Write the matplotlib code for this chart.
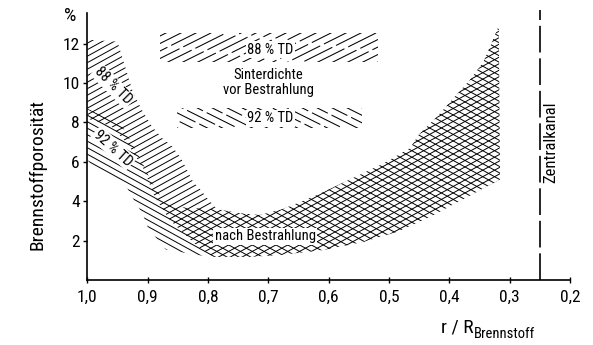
import os
import matplotlib
matplotlib.use("Agg")
import numpy as np
import matplotlib.pyplot as plt
from matplotlib import font_manager as fm
from matplotlib.font_manager import FontProperties
from matplotlib.patches import Polygon
from matplotlib.collections import LineCollection
from matplotlib.transforms import IdentityTransform

# ---------------- data ----------------
x_ticks = [1.0, 0.9, 0.8, 0.7, 0.6, 0.5, 0.4, 0.3, 0.2]
x_ticklabels = ["1,0", "0,9", "0,8", "0,7", "0,6", "0,5", "0,4", "0,3", "0,2"]
y_ticks = [2, 4, 6, 8, 10, 12]
y_ticklabels = ["2", "4", "6", "8", "10", "12"]

# porosity band after irradiation, 88 % TD initial density
r_88_upper = [1.0, 0.95, 0.934, 0.924, 0.909, 0.893, 0.876, 0.86, 0.845, 0.835, 0.825, 0.81,
              0.80, 0.785, 0.75, 0.714, 0.676, 0.62, 0.565, 0.51, 0.465, 0.45, 0.42, 0.394,
              0.366, 0.344, 0.333, 0.318]
p_88_upper = [12.2, 12.1, 10.5, 9.5, 8.6, 7.8, 7.2, 6.8, 6.2, 5.6, 5.0, 4.5,
              4.1, 3.6, 3.4, 3.3, 3.6, 4.3, 5.1, 5.9, 6.7, 7.4, 8.3, 9.2,
              10.15, 11.05, 11.8, 12.9]
r_88_lower = [0.316, 0.371, 0.432, 0.487, 0.543, 0.609, 0.681, 0.73, 0.79, 0.808, 0.825,
              0.841, 0.855, 0.866, 0.876, 0.888, 0.906, 0.934, 0.96, 1.0]
p_88_lower = [5.1, 4.2, 3.2, 2.44, 1.93, 1.52, 1.27, 1.17, 1.17, 1.5, 1.93,
              2.4, 2.8, 3.15, 3.65, 4.2, 5.6, 6.95, 7.8, 8.2]

# porosity band after irradiation, 92 % TD initial density
r_92_upper = [1.0, 0.944, 0.925, 0.911, 0.894, 0.873, 0.846, 0.80, 0.785, 0.75, 0.714,
              0.676, 0.62, 0.565, 0.51, 0.465, 0.45, 0.42, 0.394, 0.366, 0.344, 0.333, 0.318]
p_92_upper = [8.7, 7.9, 6.9, 6.1, 5.0, 4.0, 3.7, 3.6, 3.6, 3.4, 3.3,
              3.6, 4.3, 5.1, 5.9, 6.7, 7.4, 8.3, 9.2, 10.15, 11.05, 11.8, 12.9]
r_92_lower = [0.316, 0.371, 0.432, 0.487, 0.543, 0.609, 0.681, 0.73, 0.79, 0.818, 0.87,
              0.88, 0.90, 0.909, 0.921, 0.934, 0.99, 1.0]
p_92_lower = [5.1, 4.2, 3.2, 2.44, 1.93, 1.52, 1.27, 1.17, 1.17, 1.27, 1.55,
              1.9, 2.7, 3.4, 3.96, 4.67, 5.7, 6.1]

# legend bands: sinter density before irradiation
legend_88_r = [0.879, 0.518]
legend_88_p = [11.07, 12.54]
legend_92_r = [0.851, 0.544]
legend_92_p = [7.72, 8.73]

central_channel_r = 0.25

# ---------------- font choice: prefer a narrow / condensed face ----------------
BAD = ("bold", "italic", "oblique", "light", "thin", "medium", "black", "heavy", "mono",
       "extra", "ultra", "semi", "demi")
cands = []
for f in fm.fontManager.ttflist:
    b = os.path.basename(f.fname).lower()
    if ("condensed" in b or "narrow" in b) and not any(w in b.replace("condensed", "") for w in BAD):
        order = 0 if "roboto" in b else 1 if "liberation" in b else 2 if "dejavu" in b else 3
        cands.append((order, f.fname))
cands.sort()
if cands:
    FPATH, K = cands[0][1], 1.0
else:
    FPATH, K = None, 0.85


def FP(size):
    if FPATH:
        return FontProperties(fname=FPATH, size=size)
    return FontProperties(family=["Liberation Sans", "DejaVu Sans"], size=size)


W, H = 593, 345
fig = plt.figure(figsize=(W / 100, H / 100), dpi=100)
x0, x1 = 87.3, 570.0
yb, yt = 280.0, 13.0
ax = fig.add_axes([x0 / W, 1 - yb / H, (x1 - x0) / W, (yb - yt) / H])
ax.set_xlim(1.0, 0.2)
ax.set_ylim(0, (yb - yt) / 19.7)
for s in ("top", "right"):
    ax.spines[s].set_visible(False)
for s in ("left", "bottom"):
    ax.spines[s].set_linewidth(1.2)

ax.set_xticks(x_ticks)
ax.set_xticklabels(x_ticklabels, fontproperties=FP(12.5 * K))
ax.set_yticks(y_ticks)
ax.set_yticklabels(y_ticklabels, fontproperties=FP(12.5 * K))
ax.tick_params(axis="x", direction="inout", length=5, width=1.0, pad=4.5)
ax.tick_params(axis="y", direction="out", length=3, width=1.0, pad=2.5)


def hatch(rs, ps, slope, spacing, lw=0.7, broken=False):
    pts = np.column_stack([rs, ps])
    poly = Polygon(pts, closed=True, transform=ax.transData, facecolor="none", edgecolor="none")
    disp = ax.transData.transform(pts)
    xmin, ymin = disp.min(axis=0) - 5
    xmax, ymax = disp.max(axis=0) + 5
    cs = [ymin - slope * xmin, ymin - slope * xmax, ymax - slope * xmin, ymax - slope * xmax]
    segs, styles = [], []
    for i, c in enumerate(np.arange(min(cs), max(cs) + spacing, spacing)):
        segs.append([(xmin, slope * xmin + c), (xmax, slope * xmax + c)])
        styles.append((float((i * 13) % 34), (30, 4)) if broken else "solid")
    lc = LineCollection(segs, colors="black", linewidths=lw, linestyles=styles,
                        transform=IdentityTransform())
    lc.set_clip_path(poly)
    ax.add_collection(lc, autolim=False)


def band(r_up, p_up, r_lo, p_lo):
    return list(r_up) + list(r_lo), list(p_up) + list(p_lo)


br, bp = band(r_88_upper, p_88_upper, r_88_lower, p_88_lower)
hatch(br, bp, 0.55, 6.5)
br, bp = band(r_92_upper, p_92_upper, r_92_lower, p_92_lower)
hatch(br, bp, -0.55, 6.5)

lr = [legend_88_r[0], legend_88_r[1], legend_88_r[1], legend_88_r[0]]
lp = [legend_88_p[0], legend_88_p[0], legend_88_p[1], legend_88_p[1]]
hatch(lr, lp, 0.5, 7.5, lw=0.75, broken=True)
lr = [legend_92_r[0], legend_92_r[1], legend_92_r[1], legend_92_r[0]]
lp = [legend_92_p[0], legend_92_p[0], legend_92_p[1], legend_92_p[1]]
hatch(lr, lp, -0.5, 7.5, lw=0.75, broken=True)

# central channel
ax.plot([central_channel_r, central_channel_r], [0, 13.7], color="black", lw=1.2,
        dashes=(16, 3.5), clip_on=False)

white = dict(facecolor="white", edgecolor="none", pad=1.0)
fs = 10.5 * K
ax.text(0.697, 11.68, "88 % TD", ha="center", va="center", fontproperties=FP(fs), bbox=white)
ax.text(0.700, 10.40, "Sinterdichte", ha="center", va="center", fontproperties=FP(fs))
ax.text(0.699, 9.62, "vor Bestrahlung", ha="center", va="center", fontproperties=FP(fs))
ax.text(0.697, 8.22, "92 % TD", ha="center", va="center", fontproperties=FP(fs), bbox=white)
ax.text(0.705, 2.23, "nach Bestrahlung", ha="center", va="center", fontproperties=FP(fs),
        bbox=white)
ax.text(0.957, 9.85, "88 % TD", ha="center", va="center", fontproperties=FP(fs), rotation=-45,
        rotation_mode="anchor", bbox=white)
ax.text(0.957, 6.70, "92 % TD", ha="center", va="center", fontproperties=FP(fs), rotation=-42,
        rotation_mode="anchor", bbox=white)
ax.text(0.232, 7.0, "Zentralkanal", ha="center", va="center", fontproperties=FP(12 * K),
        rotation=90)

fig.text(70 / W, 1 - 16 / H, "%", ha="center", va="center", fontproperties=FP(14 * K))
fig.text(37 / W, 1 - 175 / H, "Brennstoffporosität", ha="center", va="center",
         fontproperties=FP(14 * K), rotation=90)
fig.text(441 / W, 1 - 333 / H, "r / R", ha="left", va="baseline", fontproperties=FP(14 * K))
fig.text(474 / W, 1 - 338 / H, "Brennstoff", ha="left", va="baseline",
         fontproperties=FP(10.5 * K))

fig.savefig("out.png", dpi=100, facecolor="white")
